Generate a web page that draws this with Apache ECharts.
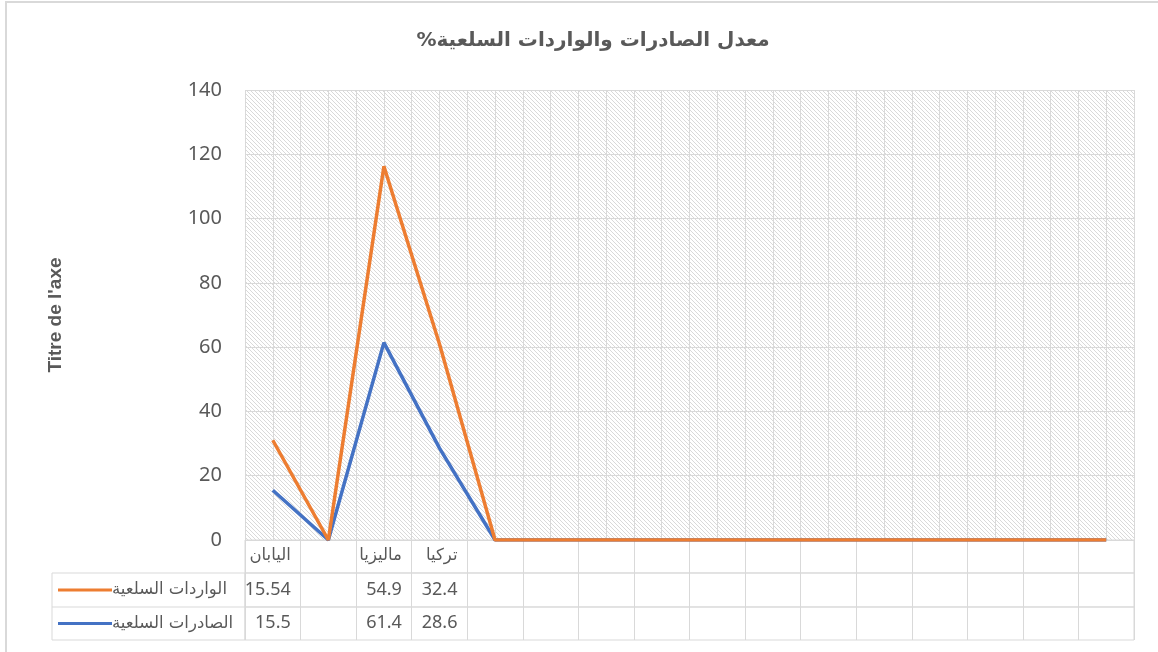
<!DOCTYPE html>
<html>
<head>
<meta charset="utf-8">
<script src="https://cdn.jsdelivr.net/npm/echarts@6/dist/echarts.min.js"></script>
<style>
  html, body { margin: 0; padding: 0; background: #fff; }
  #main { width: 1158px; height: 652px; }
</style>
</head>
<body>
<div id="main"></div>
<script>
// البيانات
var categories = ['اليابان', '', 'ماليزيا', 'تركيا', '', '', '', '', '', '', '', '', '', '', '', ''];
var importsName = 'الواردات السلعية';
var exportsName = 'الصادرات السلعية';
var importsValues = [15.54, null, 54.9, 32.4, null, null, null, null, null, null, null, null, null, null, null, null];
var exportsValues = [15.5, null, 61.4, 28.6, null, null, null, null, null, null, null, null, null, null, null, null];
var yTicks = { min: 0, max: 140, interval: 20 };

var chart = echarts.init(document.getElementById('main'));

// empty cells are drawn as zero, like the original sheet
function asZero(arr) {
  return arr.map(function (v) { return v == null ? 0 : v; });
}

// hatched plot background
var tile = document.createElement('canvas');
tile.width = 4; tile.height = 4;
var tctx = tile.getContext('2d');
tctx.fillStyle = '#ffffff';
tctx.fillRect(0, 0, 4, 4);
tctx.fillStyle = '#d9d9d9';
for (var i = 0; i < 4; i++) tctx.fillRect(i, i, 1, 1);

var gridLine = '#d9d9d9';
var textGrey = '#595959';
var arabicFont = 'DejaVu Sans';
var numFont = 'Noto Sans';
var plotLeft = 245, plotWidth = 889;

function tableAxis(gridIndex, labels, font, size) {
  return {
    type: 'category',
    gridIndex: gridIndex,
    data: categories,
    boundaryGap: true,
    axisLine: { show: false },
    axisTick: { show: false },
    splitLine: { show: true, interval: 0, lineStyle: { color: gridLine, width: 1 } },
    axisLabel: {
      show: true,
      inside: true,
      interval: 0,
      margin: 17,
      verticalAlign: 'middle',
      formatter: function (val, idx) {
        var t = labels[idx];
        if (t == null || t === '') return '';
        return '{v|' + t + '}';
      },
      rich: {
        v: { width: 36, align: 'right', fontFamily: font, fontSize: size, color: textGrey }
      }
    }
  };
}

function hiddenY(gridIndex) {
  return { type: 'value', gridIndex: gridIndex, show: false, min: 0, max: 1 };
}

var option = {
  backgroundColor: '#ffffff',
  animation: false,
  title: {
    text: 'معدل الصادرات والواردات السلعية%\u200F',
    left: 588,
    top: 26,
    textAlign: 'center',
    textStyle: { fontFamily: arabicFont, fontSize: 20, fontWeight: 'bold', color: textGrey }
  },
  legend: {
    orient: 'vertical',
    left: 58,
    top: 580,
    padding: 0,
    icon: 'rect',
    itemWidth: 54,
    itemHeight: 3,
    itemGap: 13.5,
    data: [importsName, exportsName],
    textStyle: { fontFamily: arabicFont, fontSize: 16.5, lineHeight: 20, color: textGrey, padding: [0, 0, 0, -5] }
  },
  grid: [
    { left: plotLeft, top: 90, width: plotWidth, height: 450, show: true, borderWidth: 0,
      backgroundColor: { image: tile, repeat: 'repeat' } },
    { left: plotLeft, top: 540, width: plotWidth, height: 33, show: true, borderColor: gridLine, borderWidth: 1 },
    { left: plotLeft, top: 573, width: plotWidth, height: 34, show: true, borderColor: gridLine, borderWidth: 1 },
    { left: plotLeft, top: 607, width: plotWidth, height: 33, show: true, borderColor: gridLine, borderWidth: 1 }
  ],
  xAxis: [
    { type: 'category', gridIndex: 0, data: categories, boundaryGap: true,
      axisLine: { show: false }, axisTick: { show: false }, axisLabel: { show: false }, splitLine: { show: false } },
    { type: 'value', gridIndex: 0, min: 0, max: categories.length, interval: 0.5,
      axisLine: { show: false }, axisTick: { show: false }, axisLabel: { show: false },
      splitLine: { show: true, lineStyle: { color: gridLine, width: 1 } } },
    tableAxis(1, categories, arabicFont, 16.5),
    tableAxis(2, importsValues, numFont, 18),
    tableAxis(3, exportsValues, numFont, 18)
  ],
  yAxis: [
    { type: 'value', gridIndex: 0, min: yTicks.min, max: yTicks.max, interval: yTicks.interval,
      name: "Titre de l'axe", nameLocation: 'middle', nameGap: 180,
      nameTextStyle: { fontFamily: 'Liberation Sans', fontWeight: 'bold', fontSize: 19, color: textGrey },
      axisLine: { show: false }, axisTick: { show: false },
      axisLabel: { margin: 23, fontFamily: numFont, fontSize: 20, color: textGrey },
      splitLine: { show: true, lineStyle: { color: gridLine, width: 1 } } },
    hiddenY(1), hiddenY(2), hiddenY(3)
  ],
  series: [
    { name: exportsName, type: 'line', xAxisIndex: 0, yAxisIndex: 0, stack: 'total',
      data: asZero(exportsValues), symbol: 'none',
      itemStyle: { color: '#4472C4' }, lineStyle: { color: '#4472C4', width: 3.5 } },
    { name: importsName, type: 'line', xAxisIndex: 0, yAxisIndex: 0, stack: 'total',
      data: asZero(importsValues), symbol: 'none',
      itemStyle: { color: '#ED7D31' }, lineStyle: { color: '#ED7D31', width: 3.5 } }
  ],
  graphic: [
    { type: 'rect', silent: true, shape: { x: 6, y: 2, width: 1200, height: 700 },
      style: { fill: 'none', stroke: gridLine, lineWidth: 2 } },
    { type: 'rect', silent: true, shape: { x: 52, y: 573, width: 193, height: 67 },
      style: { fill: 'none', stroke: gridLine, lineWidth: 1 } },
    { type: 'line', silent: true, shape: { x1: 52, y1: 607, x2: 245, y2: 607 },
      style: { stroke: gridLine, lineWidth: 1 } }
  ]
};

chart.setOption(option);
</script>
</body>
</html>
